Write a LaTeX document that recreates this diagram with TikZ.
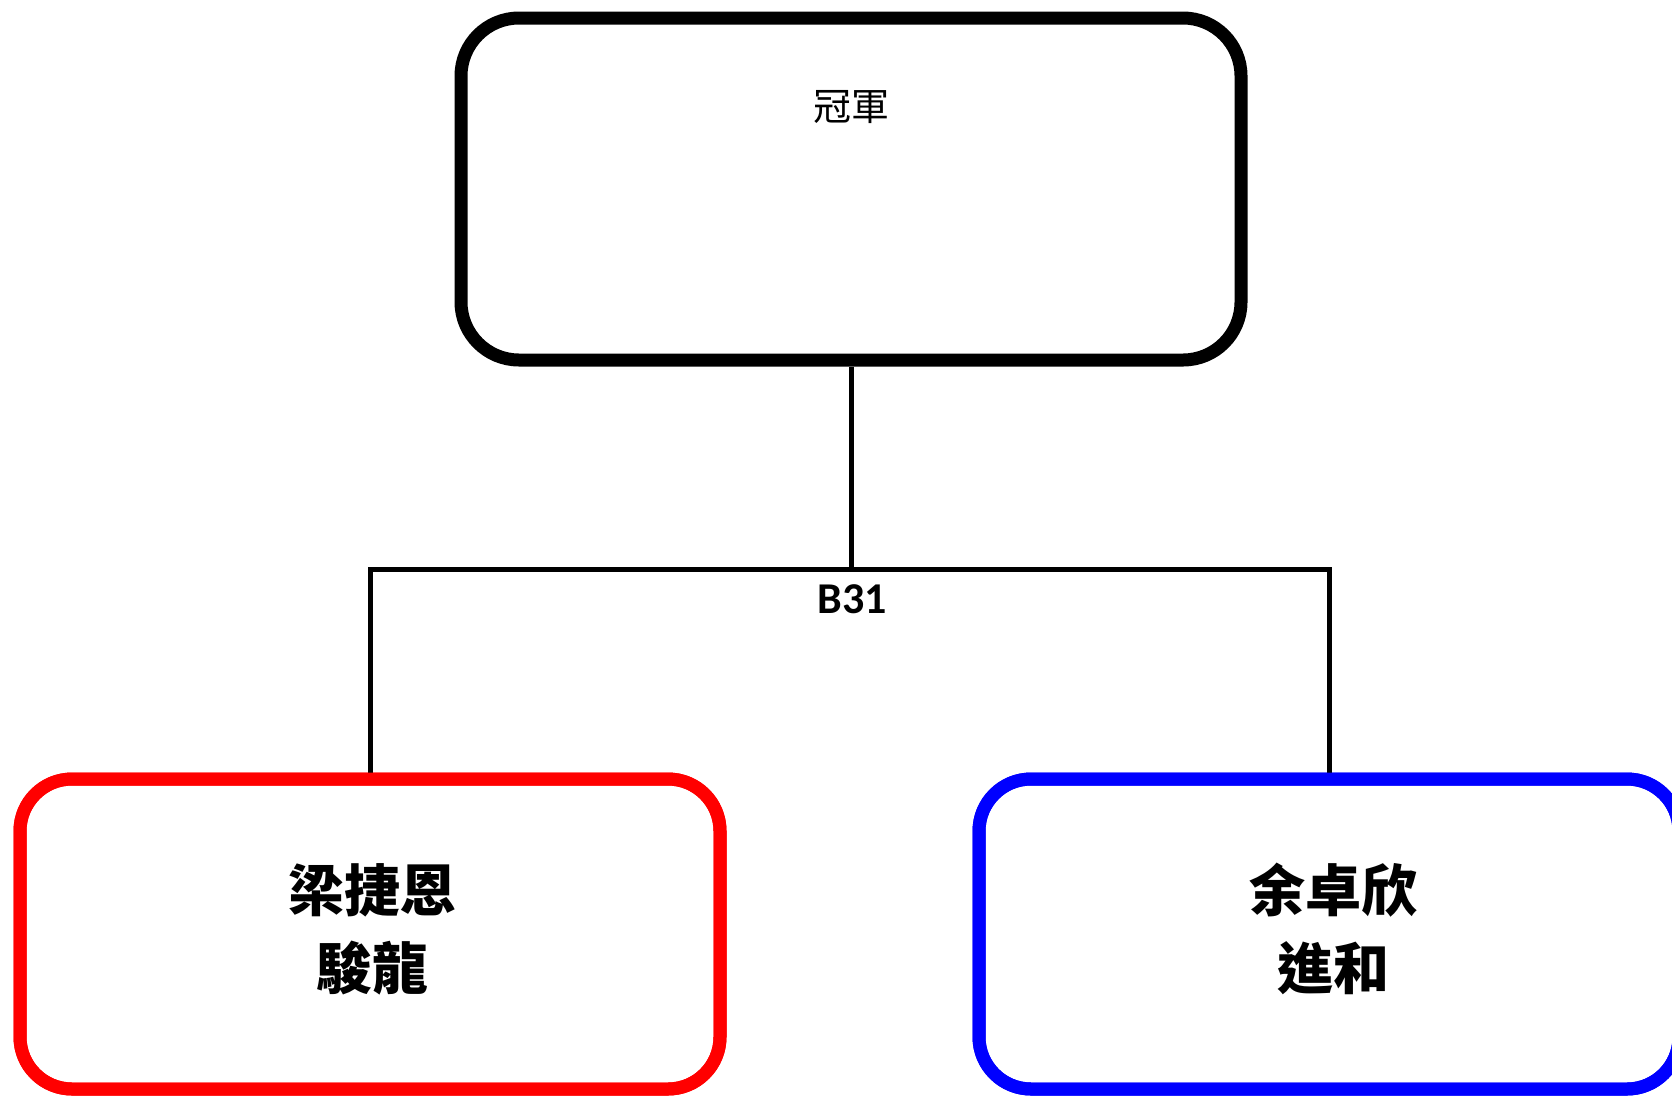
\documentclass[tikz,border=0pt]{standalone}
\usepackage{fontspec}
\newfontfamily\cjk{Noto Sans CJK TC}
\newfontfamily\calib{Carlito}
\begin{document}
\begin{tikzpicture}[x=1pt,y=-1pt,
  box/.style={draw, line width=13pt, rounded corners=52pt, minimum width=#1, minimum height=310pt, inner sep=0pt, fill=white},
  conn/.style={draw=black, line width=5pt},
  lbl/.style={inner sep=0pt, align=center}]
\useasboundingbox (0,0) rectangle (1672,1096);
\fill[white] (0,0) rectangle (1672,1096);
% top box
\node[box=780pt, minimum height=342pt, rounded corners=58pt] (top) at (851,189) {};
\node[lbl, font=\cjk\fontsize{38pt}{44pt}\selectfont] (champ) at (851,107) {冠軍};
% junction
\coordinate (j) at (851,569);
% bottom boxes
\node[box=700pt, draw={rgb,255:red,255;green,0;blue,0}] (red) at (370,934) {};
\node[box=700pt, draw={rgb,255:red,0;green,0;blue,255}] (blue) at (1329,934) {};
% connectors
\draw[conn] (top.south) -- (j);
\draw[conn] (red.north) -- (red.north |- j) -- (blue.north |- j) -- (blue.north);
% redraw box borders over connector ends
\node[box=700pt, draw={rgb,255:red,255;green,0;blue,0}, fill=none] at (370,934) {};
\node[box=700pt, draw={rgb,255:red,0;green,0;blue,255}, fill=none] at (1329,934) {};
\node[lbl, font=\calib\bfseries\fontsize{44pt}{50pt}\selectfont] (b31) at (852,599) {B31};
\node[lbl, font=\cjk\bfseries\fontsize{56pt}{78pt}\selectfont] (redtxt) at (372,929) {梁捷恩\\駿龍};
\node[lbl, font=\cjk\bfseries\fontsize{56pt}{78pt}\selectfont] (bluetxt) at (1333,929) {余卓欣\\進和};
\end{tikzpicture}
\end{document}
